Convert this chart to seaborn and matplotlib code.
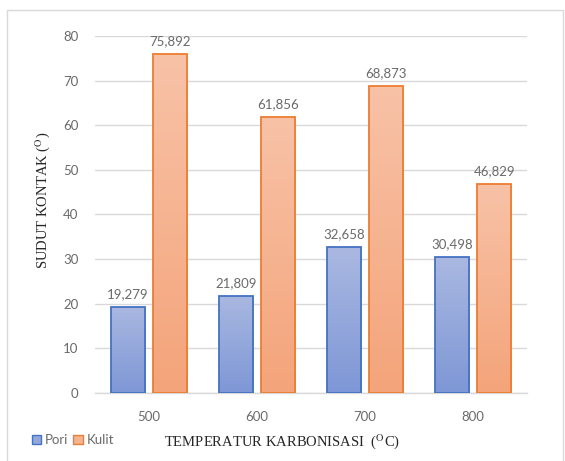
import numpy as np
import pandas as pd
import matplotlib
matplotlib.use("Agg")
import matplotlib.pyplot as plt
import seaborn as sns
from matplotlib.patches import Patch, Rectangle
from matplotlib.colors import LinearSegmentedColormap
from matplotlib.ticker import FixedLocator

# data
suhu = ["500", "600", "700", "800"]
pori = [19.279, 21.809, 32.658, 30.498]
kulit = [75.892, 61.856, 68.873, 46.829]
series = ["Pori", "Kulit"]

df = pd.DataFrame({
    "suhu": suhu * 2,
    "nilai": pori + kulit,
    "seri": ["Pori"] * 4 + ["Kulit"] * 4,
})

edge = {"Pori": "#4472c4", "Kulit": "#ed7d31"}
grad = {"Pori": ("#aab8e1", "#7e97d6"), "Kulit": ("#f8c2a7", "#f4a47a")}
txt_col = "#6a6a6a"

sns.set_style("white")
plt.rcParams["font.family"] = ["Lato", "DejaVu Sans"]
plt.rcParams["mathtext.fontset"] = "stix"

fig = plt.figure(figsize=(5.65, 4.61), dpi=100)
ax = fig.add_axes([0.168, 0.1475, 0.765, 0.7745])

sns.barplot(data=df, x="suhu", y="nilai", hue="seri", order=suhu,
            hue_order=series, width=0.78, gap=0.19, ax=ax,
            palette=[edge["Pori"], edge["Kulit"]], legend=False, zorder=3)

# gradient fill clipped to each bar
for i, bar in enumerate(ax.patches):
    s = series[i // len(suhu)]
    x0, y0 = bar.get_x(), bar.get_y()
    w, h = bar.get_width(), bar.get_height()
    cmap = LinearSegmentedColormap.from_list(s, [grad[s][1], grad[s][0]])
    img = ax.imshow(np.linspace(0, 1, 100).reshape(-1, 1), cmap=cmap,
                    extent=[x0, x0 + w, y0, y0 + h], origin="lower",
                    aspect="auto", zorder=3)
    img.set_clip_path(bar)
    bar.set_facecolor("none")
    bar.set_edgecolor(edge[s])
    bar.set_linewidth(1.3)
    bar.set_zorder(4)

# value labels
for c in ax.containers:
    labels = [f"{v:.3f}".replace(".", ",") for v in c.datavalues]
    ax.bar_label(c, labels=labels, padding=5, fontsize=9.5, color=txt_col)

ax.set_xlim(-0.5, 3.5)
ax.set_ylim(0, 80)
ax.set_yticks(range(0, 81, 10))
ax.yaxis.grid(True, color="#d9d9d9", linewidth=1, zorder=0)
ax.set_axisbelow(True)
for sp in ["top", "right", "left"]:
    ax.spines[sp].set_visible(False)
ax.spines["bottom"].set_color("#d9d9d9")
ax.spines["bottom"].set_linewidth(1)

ax.tick_params(axis="y", length=0, pad=12, labelsize=9.5, labelcolor=txt_col)
ax.tick_params(axis="x", which="major", length=0, pad=13, labelsize=9.5,
               labelcolor=txt_col)
ax.xaxis.set_minor_locator(FixedLocator([-0.5, 0.5, 1.5, 2.5, 3.5]))
ax.tick_params(axis="x", which="minor", length=5, color="#d9d9d9", width=1)
ax.set_xlabel("")
ax.set_ylabel("")

fig.text(0.075, 0.565, r"SUDUT KONTAK ($^{\mathrm{O}}$)", rotation=90,
         ha="center", va="center", fontsize=10.5,
         family=["Liberation Serif"])
fig.text(0.50, 0.042, r"TEMPERATUR KARBONISASI  ($^{\mathrm{O}}$C)",
         ha="center", va="center", fontsize=10.5,
         family=["Liberation Serif"])

handles = [Patch(facecolor="#94a7db", edgecolor=edge["Pori"], label="Pori"),
           Patch(facecolor="#f6b391", edgecolor=edge["Kulit"], label="Kulit")]
fig.legend(handles=handles, loc="center left", bbox_to_anchor=(0.035, 0.045),
           ncol=2, frameon=False, handlelength=0.7, handleheight=0.7,
           handletextpad=0.3, columnspacing=0.4, fontsize=9.5,
           labelcolor=txt_col)

# chart border
fig.patches.append(Rectangle((7 / 565, -0.05), 556 / 565, 1.05 - 10 / 461,
                             transform=fig.transFigure, fill=False,
                             edgecolor="#d9d9d9", linewidth=1))

fig.savefig("out.png", dpi=100)
